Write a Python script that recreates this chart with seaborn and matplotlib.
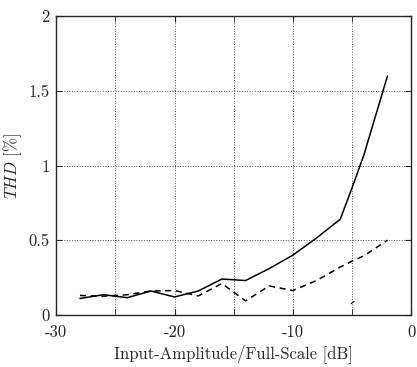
import pandas as pd
import matplotlib.pyplot as plt
import seaborn as sns

# Data
amp_db = [-28, -26, -24, -22, -20, -18, -16, -14, -12, -10, -8, -6, -5, -4, -2]
thd_solid = [0.11, 0.135, 0.115, 0.16, 0.12, 0.16, 0.24, 0.23, 0.31, 0.40, 0.515, 0.64, 0.85, 1.07, 1.60]
thd_dashed = [0.13, 0.125, 0.135, 0.16, 0.163, 0.127, 0.21, 0.094, 0.194, 0.163, 0.23, 0.32, 0.36, 0.395, 0.50]
amp_short = [-5.1, -4.65]
thd_short = [0.074, 0.10]
x_ticks = [-30, -20, -10, 0]
x_labels = ['-30', '-20', '-10', '0']
y_ticks = [0, 0.5, 1, 1.5, 2]
y_labels = ['0', '0.5', '1', '1.5', '2']

sns.set_style('ticks')
plt.rcParams['font.family'] = ['cmr10', 'DejaVu Serif']
plt.rcParams['mathtext.fontset'] = 'cm'
plt.rcParams['axes.unicode_minus'] = False

df_solid = pd.DataFrame({'x': amp_db, 'y': thd_solid})
df_dashed = pd.DataFrame({'x': amp_db, 'y': thd_dashed})
df_short = pd.DataFrame({'x': amp_short, 'y': thd_short})

fig = plt.figure(figsize=(4.17, 3.67), dpi=100)
ax = fig.add_axes([0.135, 0.142, 0.851, 0.814])

sns.lineplot(data=df_solid, x='x', y='y', ax=ax, color='black', lw=1.1)
sns.lineplot(data=df_dashed, x='x', y='y', ax=ax, color='black', lw=1.1, linestyle=(0, (4, 3)))
sns.lineplot(data=df_short, x='x', y='y', ax=ax, color='black', lw=0.8, linestyle=(0, (4, 3)))

ax.set_xlim(-30, 0)
ax.set_ylim(0, 2)
ax.set_xticks(x_ticks)
ax.set_xticklabels(x_labels)
ax.set_xticks([-25, -15, -5], minor=True)
ax.set_yticks(y_ticks)
ax.set_yticklabels(y_labels)
ax.grid(True, which='both', axis='x', linestyle=':', color='#555555', lw=0.7)
ax.grid(True, which='major', axis='y', linestyle=':', color='#555555', lw=0.7)
ax.tick_params(which='both', direction='in', top=True, right=True, length=4, labelsize=12)
ax.tick_params(axis='x', pad=7)
ax.tick_params(axis='y', pad=5)
for s in ax.spines.values():
    s.set_linewidth(1.0)

ax.set_xlabel('Input-Amplitude/Full-Scale [dB]', fontsize=12, labelpad=3)
ax.set_ylabel(r'$\mathit{THD}$ [%]', fontsize=12, labelpad=3)

fig.savefig('out.png', dpi=100)
